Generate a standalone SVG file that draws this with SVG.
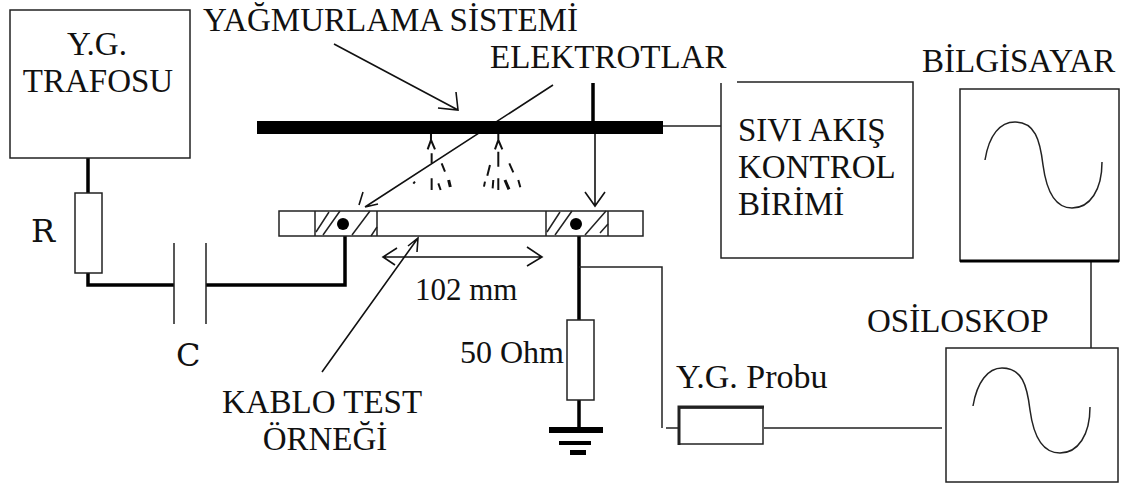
<svg xmlns="http://www.w3.org/2000/svg" width="1132" height="487" viewBox="0 0 1132 487">
<style>
text{font-family:"Liberation Serif","Times New Roman",serif;fill:#111;font-size:33px}
.b{fill:#fff;stroke:#222;stroke-width:1.5}
.k{fill:none;stroke:#000;stroke-width:3.5}
.t{fill:none;stroke:#222;stroke-width:1.5}
.m{fill:none;stroke:#111;stroke-width:1.6}
.mono{font-family:"DejaVu Serif",serif;font-size:32px}
</style>
<rect width="1132" height="487" fill="#fff"/>
<g id="connectors">
<path class="k" d="M88 158V194M88 273V285H174M206 285H345V225M579 225V320M579 400V430M593 83V121"/>
<path class="t" d="M174 243V324M206 243V324M579 267H662V428M666 428H679M764 428H942M1091 262V348M663 126H721"/>
<path class="m" d="M334 44L458 110M438 108L458 110L456 92M553 85L365 207M363 192L359 205M378 204L365 207M595 134V206M585 192L595 206L605 192M322 372L418 238M408 246L418 238L417 252"/>
<path class="m" d="M383 257H542M397 248L383 257L395 265M527 247L542 257L527 266"/>
</g>
<g id="trafo"><rect class="b" x="10" y="10" width="180" height="148"/><text x="97" y="55" text-anchor="middle">Y.G.</text><text x="98" y="92" text-anchor="middle">TRAFOSU</text></g>
<g id="resistor-r"><rect class="b" x="75" y="193" width="27" height="80"/><text x="31" y="242" class="mono">R</text></g>
<g id="capacitor-c"><text x="176" y="366" class="mono">C</text></g>
<g id="spray-bar"><rect x="257" y="121" width="406" height="13" fill="#000"/>
<path transform="translate(250 60) scale(.3333)" fill="none" stroke="#111" stroke-width="6" d="M543 222V240L533 268M543 240L555 268M545 280V310M575 310L585 335M495 365L490 371M545 355V390M565 370L572 390M745 222V240L735 268M745 240L757 268M745 275V320M720 315L712 347M778 310L790 337M705 365L702 380M730 360L728 385M745 355V390M805 360L811 382"/>
<path transform="translate(250 60) scale(.3333)" fill="none" stroke="#111" stroke-width="9" d="M596 360L601 381M765 360L777 388"/></g>
<g id="cable-sample">
<rect class="b" x="279" y="211" width="364" height="25"/>
<path fill="none" stroke="#222" stroke-width="1.5" d="M315 211V236M377 211V236M546 211V236M608 211V236"/>
<path fill="none" stroke="#222" stroke-width="1.5" d="M316 232L329 212M323 235L340 211M352 235L370 211M371 236L377 227M547 232L560 212M555 235L572 211M585 235L606 211M600 233L608 224"/>
<circle cx="343" cy="224" r="6" fill="#000"/><circle cx="576" cy="224" r="6" fill="#000"/>
</g>
<g id="labels">
<text x="203" y="31">YAĞMURLAMA SİSTEMİ</text>
<text x="490" y="68">ELEKTROTLAR</text>
<text x="415" y="300" style="font-size:31px">102 mm</text>
<text x="322" y="413" text-anchor="middle">KABLO TEST</text>
<text x="325" y="450" text-anchor="middle">ÖRNEĞİ</text>
</g>
<g id="resistor-50"><rect class="b" x="567" y="320" width="27" height="80"/><text x="460" y="363" style="font-size:32px">50 Ohm</text>
<path fill="#000" d="M549 427H603V433H549ZM559 441H591V445H559ZM570 450H586V455H570Z"/></g>
<g id="probe"><rect fill="#fff" stroke="#222" stroke-width="1.5" x="679" y="408" width="84" height="36"/><path stroke="#222" stroke-width="3" fill="none" d="M679 445V407H764"/><text x="676" y="388" style="font-size:34px">Y.G. Probu</text></g>
<g id="flow-control"><path class="t" d="M737 82H913V258H721V83"/><text x="738" y="141">SIVI AKIŞ</text><text x="738" y="178">KONTROL</text><text x="738" y="215">BİRİMİ</text></g>
<g id="computer"><rect class="b" x="960" y="89" width="159" height="172"/><path fill="none" stroke="#000" stroke-width="3" d="M960 261H1119"/><path class="t" d="M985 160C989 135 1000 122 1015 122C1035 122 1040 140 1043 165C1047 195 1058 208 1072 208C1090 208 1102 190 1102 162"/><text x="922" y="72">BİLGİSAYAR</text></g>
<g id="oscilloscope"><rect class="b" x="946" y="348" width="172" height="134"/><path class="t" d="M973 406C977 382 988 368 1002 368C1022 368 1027 385 1030 410C1034 440 1045 453 1060 453C1078 453 1090 435 1090 407"/><text x="867" y="332">OSİLOSKOP</text></g>
</svg>
